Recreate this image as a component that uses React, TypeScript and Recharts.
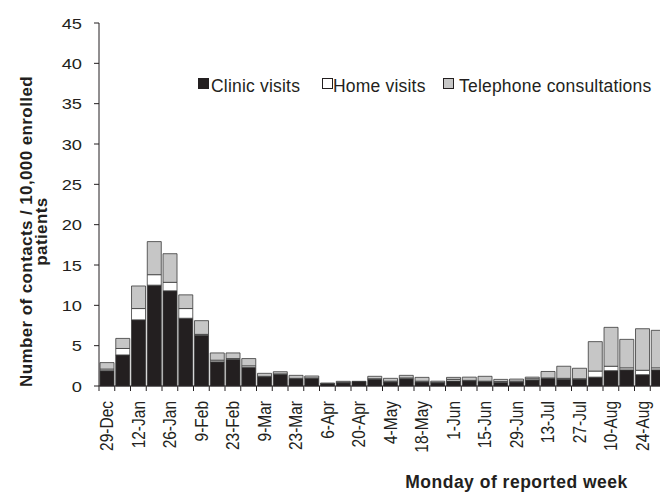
import { Bar, BarChart, Legend, XAxis, YAxis } from "recharts";

const weeks = [
  "29-Dec", "5-Jan", "12-Jan", "19-Jan", "26-Jan", "2-Feb", "9-Feb", "16-Feb", "23-Feb",
  "2-Mar", "9-Mar", "16-Mar", "23-Mar", "30-Mar", "6-Apr", "13-Apr", "20-Apr", "27-Apr",
  "4-May", "11-May", "18-May", "25-May", "1-Jun", "8-Jun", "15-Jun", "22-Jun", "29-Jun",
  "6-Jul", "13-Jul", "20-Jul", "27-Jul", "3-Aug", "10-Aug", "17-Aug", "24-Aug", "31-Aug",
];

const clinicVisits = [
  1.9, 3.85, 8.2, 12.5, 11.8, 8.4, 6.3, 3.0, 3.3, 2.3, 1.15, 1.45, 0.9, 0.95, 0.3, 0.4, 0.55, 0.85,
  0.5, 0.9, 0.5, 0.4, 0.62, 0.65, 0.55, 0.45, 0.5, 0.75, 0.95, 0.85, 0.85, 1.1, 1.9, 2.0, 1.4, 2.0,
];

const homeVisits = [
  0.2, 0.8, 1.4, 1.3, 1.05, 1.2, 0.1, 0.2, 0.1, 0.2, 0.05, 0.05, 0.05, 0.05, 0, 0.05, 0, 0.05,
  0.1, 0.1, 0.1, 0.05, 0.2, 0.05, 0.05, 0.1, 0.1, 0.15, 0.05, 0.1, 0.05, 0.75, 0.55, 0.25, 0.55, 0.25,
];

const telephone = [
  0.8, 1.25, 2.8, 4.1, 3.55, 1.7, 1.7, 0.9, 0.7, 0.9, 0.37, 0.27, 0.37, 0.24, 0.07, 0.13, 0.03, 0.3,
  0.35, 0.32, 0.47, 0.15, 0.25, 0.4, 0.6, 0.27, 0.26, 0.2, 0.8, 1.5, 1.3, 3.65, 4.82, 3.53, 5.15, 4.65,
];

const yTicks = [0, 5, 10, 15, 20, 25, 30, 35, 40, 45];

const series = [
  { key: "clinic", name: "Clinic visits", fill: "#231f20" },
  { key: "home", name: "Home visits", fill: "#ffffff" },
  { key: "tel", name: "Telephone consultations", fill: "#c6c6c6" },
];

// legend item placement (square left, text left), relative to the legend box
const legendSlots = [
  { box: 0, text: 13 },
  { box: 124, text: 135 },
  { box: 245, text: 261 },
];

const data = weeks.map((week, i) => ({
  week,
  clinic: clinicVisits[i],
  home: homeVisits[i],
  tel: telephone[i],
}));

const CHART_W = 666;
const CHART_H = 493;
const Y_AXIS_W = 99;
const BAND = (CHART_W - Y_AXIS_W) / weeks.length;
const INK = "#231f20";
// the source picture is a bit stretched sideways, so text gets widened
const STRETCH = 1.18;

function WeekTick(props: any) {
  const { x, y, payload, index } = props;
  const i = payload?.index ?? index;
  const left = x - BAND / 2;
  const ty = y + 15;
  return (
    <g>
      <line x1={left} y1={y} x2={left} y2={y + 5} stroke={INK} strokeWidth={1} />
      {i % 2 === 0 && (
        <text
          x={0}
          y={0}
          transform={`translate(${x}, ${ty}) scale(${STRETCH}, 1) rotate(-90)`}
          textAnchor="end"
          dy="0.36em"
          fontSize={15.5}
          fill={INK}
        >
          {payload.value}
        </text>
      )}
    </g>
  );
}

function ValueTick(props: any) {
  const { x, y, payload } = props;
  return (
    <text
      x={0}
      y={0}
      transform={`translate(${x}, ${y}) scale(${STRETCH}, 1)`}
      textAnchor="end"
      dy="0.355em"
      fontSize={15.5}
      fill={INK}
    >
      {payload.value}
    </text>
  );
}

function YTitle(props: any) {
  const vb = props.viewBox || {};
  const cy = vb.y + vb.height / 2 + 27;
  return (
    <g fontWeight="bold" fontSize={17} fill={INK} letterSpacing={0.4}>
      <text x={32} y={cy} textAnchor="middle" transform={`rotate(-90, 32, ${cy})`}>
        Number of contacts / 10,000 enrolled
      </text>
      <text x={47} y={cy} textAnchor="middle" transform={`rotate(-90, 47, ${cy})`}>
        patients
      </text>
    </g>
  );
}

function XTitle() {
  return (
    <text x={516.5} y={488} textAnchor="middle" fontWeight="bold" fontSize={17.5} fill={INK} letterSpacing={0.5}>
      Monday of reported week
    </text>
  );
}

function LegendBox() {
  return (
    <div
      style={{
        position: "relative",
        height: 20,
        whiteSpace: "nowrap",
        fontSize: 17.5,
        lineHeight: "20px",
        letterSpacing: 0.2,
        color: INK,
      }}
    >
      {series.map((s, i) => (
        <div key={s.key}>
          <span
            style={{
              position: "absolute",
              left: legendSlots[i].box,
              top: 2,
              width: 9,
              height: 9,
              background: s.fill,
              border: `1px solid ${INK}`,
            }}
          />
          <span style={{ position: "absolute", left: legendSlots[i].text, top: 0 }}>{s.name}</span>
        </div>
      ))}
    </div>
  );
}

export default function App() {
  return (
    <div
      style={{
        position: "absolute",
        left: 0,
        top: 0,
        width: 660,
        height: 493,
        overflow: "hidden",
        background: "#fff",
        fontFamily: "'Liberation Sans', Arial, Helvetica, sans-serif",
      }}
    >
      <BarChart
        width={CHART_W}
        height={CHART_H}
        data={data}
        margin={{ top: 23, right: 0, bottom: 0, left: 0 }}
        barCategoryGap="6.5%"
      >
        <XAxis
          dataKey="week"
          interval={0}
          height={107}
          tickLine={false}
          tickSize={0}
          tickMargin={0}
          axisLine={{ stroke: INK, strokeWidth: 1 }}
          tick={<WeekTick />}
          label={{ content: <XTitle /> }}
        />
        <YAxis
          width={Y_AXIS_W}
          domain={[0, 45]}
          ticks={yTicks}
          interval={0}
          tickSize={5}
          tickMargin={12}
          tickLine={{ stroke: INK }}
          axisLine={{ stroke: INK, strokeWidth: 1 }}
          tick={<ValueTick />}
          label={{ content: <YTitle /> }}
        />
        <Legend
          layout="horizontal"
          verticalAlign="middle"
          wrapperStyle={{ top: 76, left: 198, width: 470, height: 20 }}
          content={<LegendBox />}
        />
        {series.map((s) => (
          <Bar
            key={s.key}
            dataKey={s.key}
            name={s.name}
            stackId="a"
            fill={s.fill}
            stroke="#3a3a3a"
            strokeWidth={0.8}
            isAnimationActive={false}
          />
        ))}
      </BarChart>
    </div>
  );
}
